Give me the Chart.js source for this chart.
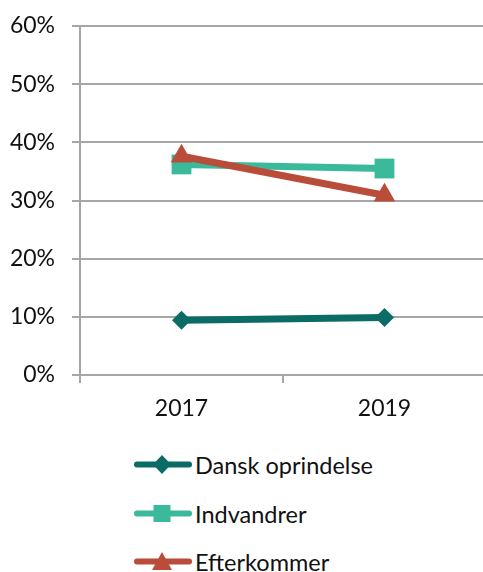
<!DOCTYPE html>
<html lang="da">
<head>
    <meta charset="UTF-8">
    <title>Andel 2017-2019</title>
    <script src="https://cdn.jsdelivr.net/npm/chart.js@4"></script>
    <style>
        body { margin: 0; width: 483px; height: 572px; overflow: hidden; background: #fff; font-family: Lato, sans-serif; position: relative; }
        #chart { position: absolute; left: 0; top: 0; }
        #legend { position: absolute; left: 133px; top: 441px; }
        .row { display: flex; align-items: center; height: 48.5px; font-size: 23.5px; color: #111; }
        .row svg { width: 62px; height: 26px; }
    </style>
</head>
<body>
    <canvas id="chart" width="488" height="425"></canvas>
    <div id="legend"></div>

<script>
    // data
    const years = ['2017', '2019'];
    const dansk = [9.4, 9.9];
    const indvandrer = [36.2, 35.5];
    const efterkommer = [37.6, 30.9];
    const yMax = 60;
    const yStep = 10;

    const names = ['Dansk oprindelse', 'Indvandrer', 'Efterkommer'];
    const colors = ['#0b6b65', '#3bba9b', '#b94d3a'];
    const shapes = ['rectRot', 'rect', 'triangle'];

    const grey = '#a6a6a6';

    function ds(i, values, radius, order) {
        return {
            label: names[i],
            data: values,
            borderColor: colors[i],
            backgroundColor: colors[i],
            borderWidth: 7,
            pointStyle: shapes[i],
            pointRadius: radius,
            pointBorderWidth: 0,
            order: order
        };
    }

    new Chart(document.getElementById('chart'), {
        type: 'line',
        data: {
            labels: years,
            datasets: [
                ds(0, dansk, 9.5, 2),
                ds(1, indvandrer, 14, 1),
                ds(2, efterkommer, 12.5, 0)
            ]
        },
        options: {
            responsive: false,
            animation: false,
            layout: { autoPadding: false, padding: { top: 26, right: 2, left: 0, bottom: 0 } },
            plugins: { legend: { display: false }, tooltip: { enabled: false } },
            scales: {
                x: {
                    offset: true,
                    grid: { offset: true, drawOnChartArea: false, color: grey, lineWidth: 2, tickLength: 8 },
                    border: { color: grey, width: 2 },
                    ticks: { color: '#111', padding: 12, font: { family: 'Lato', size: 23 } },
                    afterFit: function (s) { s.height = 50; }
                },
                y: {
                    min: 0,
                    max: yMax,
                    ticks: {
                        stepSize: yStep,
                        color: '#111',
                        padding: 17,
                        font: { family: 'Lato', size: 23 },
                        callback: function (v) { return v + '%'; }
                    },
                    grid: { color: grey, lineWidth: 2, tickLength: 8 },
                    border: { color: grey, width: 2 },
                    afterFit: function (s) {
                        s.width = 80;
                        s.paddingTop = 0;
                        s.paddingBottom = 0;
                    }
                }
            }
        }
    });

    // legend: line with marker, then the name
    function marker(i) {
        const c = colors[i];
        if (shapes[i] === 'rectRot') return '<polygon points="29,3 38,12.5 29,22 20,12.5" fill="' + c + '"/>';
        if (shapes[i] === 'rect') return '<rect x="20.5" y="4" width="17" height="17" fill="' + c + '"/>';
        return '<polygon points="29,3 39,21 19,21" fill="' + c + '"/>';
    }
    const legend = document.getElementById('legend');
    names.forEach(function (n, i) {
        legend.innerHTML += '<div class="row"><svg viewBox="0 0 62 26">' +
            '<line x1="4" y1="12.5" x2="56" y2="12.5" stroke="' + colors[i] + '" stroke-width="6" stroke-linecap="round"/>' +
            marker(i) + '</svg><span>' + n + '</span></div>';
    });
</script>
</body>
</html>
